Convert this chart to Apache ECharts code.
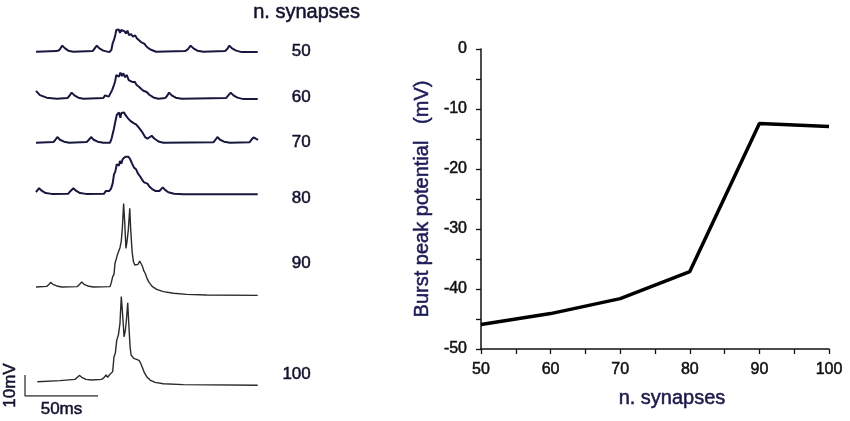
<!DOCTYPE html>
<html>
<head>
<meta charset="utf-8">
<script src="https://cdn.jsdelivr.net/npm/echarts@6/dist/echarts.min.js"></script>
<style>
  html, body { margin: 0; padding: 0; background: #fff; }
  #main { width: 850px; height: 421px; }
</style>
</head>
<body>
<div id="main"></div>
<script>
// right panel: burst peak vs number of synapses
var synapseCounts = [50, 60, 70, 80, 90, 100];
var burstPeak = [-45.9, -44.1, -41.6, -37.1, -12.4, -12.9];

// left panel: membrane potential traces, [time ms, mV]
var trace50 = [[0,-56],[14.2,-55.7],[16,-55.2],[18,-53.1],[19.9,-54.4],[22.1,-55.5],[25.6,-56],[38.8,-55.7],[40,-54.9],[41.6,-53.1],[43.4,-54.4],[46.1,-55.5],[50.2,-56.2],[51.6,-55.2],[52.5,-52],[53.4,-50.4],[54.3,-48],[55,-45.7],[55.9,-46.4],[56.6,-45.4],[57.5,-47],[58.2,-45.7],[59.4,-46.6],[60.5,-46.2],[61.6,-47.3],[62.6,-46],[63.7,-48.1],[65.1,-47.6],[66.4,-48.9],[67.8,-48.2],[69.2,-49.7],[70.5,-50.1],[71.9,-51.4],[73.1,-52],[74.4,-52.3],[75.3,-53.3],[76.9,-54.3],[79.2,-55.2],[82.2,-56],[102.1,-55.7],[103.9,-54.9],[105.9,-53.1],[107.8,-54.4],[110.5,-55.5],[114.6,-56],[129.5,-55.7],[131.1,-54.6],[132.4,-53.1],[134.2,-54.4],[137,-55.5],[140.9,-56.2],[151.8,-56.2]];
var trace60 = [[0,-52.3],[2.7,-54.3],[7.3,-55.5],[14.2,-56],[21.5,-55.7],[22.8,-54.7],[24.4,-53.1],[26.3,-54.4],[29,-55.5],[32.4,-56],[46.1,-55.7],[47.3,-54.4],[48.4,-53.5],[49.8,-55],[50.9,-54.6],[52.1,-51.9],[53,-50.3],[54.1,-47.9],[55,-44.7],[55.9,-43.9],[56.8,-45.5],[57.8,-43.6],[58.9,-45.2],[59.8,-43.9],[61,-45.8],[62.1,-44.7],[63.5,-47.1],[64.8,-46.5],[66.2,-48.1],[67.6,-47.9],[68.9,-49.5],[70.5,-50.3],[72.1,-51.4],[73.5,-52.2],[74.7,-51.6],[75.8,-52.8],[77.6,-54.1],[80.4,-55.4],[83.8,-56],[88.4,-55.7],[89.7,-54.7],[91.1,-53.1],[92.9,-54.4],[95.7,-55.5],[99.8,-56],[130.1,-55.7],[131.7,-54.4],[133.3,-53.1],[135.2,-54.4],[137.9,-55.5],[142,-56.2],[151.8,-56.2]];
var trace70 = [[0,-56],[11.9,-55.7],[13.2,-54.7],[14.6,-53.3],[16.4,-54.6],[19.2,-55.5],[22.8,-56],[34.7,-55.7],[36.1,-54.7],[37.7,-53.3],[39.5,-54.6],[42.2,-55.5],[46.1,-56],[50.7,-56],[51.8,-53.9],[52.7,-53.1],[53.4,-49.2],[54.3,-46],[55.3,-42.8],[56.2,-43.6],[56.8,-41.6],[57.8,-44.1],[58.4,-41.9],[59.4,-42.8],[60.3,-41.6],[61.2,-42.8],[62.1,-42.5],[63,-44.4],[63.9,-43.8],[64.8,-45.7],[66,-45.2],[67.1,-46.8],[68.5,-47.3],[69.9,-48.4],[71.2,-49.5],[72.6,-50.8],[73.7,-51.7],[74.9,-53.5],[76.3,-54.1],[77.6,-53.9],[79.2,-52.7],[80.8,-53.9],[83.8,-55.4],[87.2,-56],[121.5,-55.8],[122.8,-54.7],[124.2,-53.3],[126,-54.6],[128.8,-55.5],[132.9,-56],[146.1,-55.8],[147.5,-54.6],[148.9,-53.5],[150.3,-54],[152,-54.7]];
var trace80 = [[0,-55],[2.1,-53.1],[3.9,-54.3],[6.6,-55.4],[10.7,-55.8],[22.1,-55.7],[23.7,-54.4],[25.6,-53.1],[27.4,-54.3],[30.1,-55.4],[34.2,-55.8],[46.6,-55.7],[47.9,-54.4],[49.1,-53.5],[50.2,-54.4],[51.4,-53.3],[52.5,-50.8],[53.4,-46.5],[54.3,-45.2],[55.3,-41.7],[56.2,-40.8],[56.8,-42.3],[57.5,-40.1],[58.4,-41.4],[59.4,-39.2],[60.3,-40.1],[61.2,-38.1],[62.1,-37.3],[63.2,-38.1],[64.4,-39.2],[65.8,-41.4],[67.1,-43.3],[68.5,-44.1],[69.9,-46.2],[71.2,-47.4],[72.6,-49],[74,-50.3],[75.1,-51.2],[76.3,-50.9],[77.6,-52.3],[79.5,-53.5],[81.7,-54.4],[84.5,-54.4],[85.6,-53.5],[86.8,-52.7],[88.4,-53.9],[90.6,-55],[94.5,-55.7],[100.9,-56],[151.8,-56]];
var trace90 = [[0,-52],[7.3,-51.7],[8.7,-50.9],[10,-49.8],[11.6,-50.7],[14.2,-51.5],[17.6,-52],[28.3,-51.8],[29.9,-50.7],[31.3,-49.6],[32.9,-50.7],[35.4,-51.5],[39.3,-52],[50.7,-51.8],[51.6,-49.8],[52.5,-47.1],[53.4,-46],[54.1,-40.7],[55,-39.9],[55.7,-36.8],[56.6,-36.3],[57.5,-33.3],[58.4,-30.1],[59.1,-24.1],[60,-12.2],[60.7,-20.9],[61.6,-33.6],[62.3,-30.4],[63.2,-24.9],[64.2,-14.5],[64.8,-24.1],[65.8,-35.2],[66.7,-39.9],[67.6,-41.5],[68.7,-42.2],[69.9,-41.2],[71,-39.6],[71.9,-40.3],[72.8,-42],[73.7,-44.1],[74.9,-45.7],[76,-47.9],[77.4,-49.8],[79.5,-51.7],[82.6,-53.1],[87.2,-54.2],[94.1,-55],[103.2,-55.5],[116.9,-55.8],[151.8,-56]];
var trace100 = [[0.9,-53],[16.4,-52.5],[26.7,-51.9],[28.3,-50.9],[29.7,-50],[31.3,-50.9],[34.2,-51.9],[38.1,-52.2],[45,-51.9],[46.8,-50.9],[47.9,-49.8],[49.1,-50.9],[50.2,-49.8],[51.4,-50.6],[52.5,-48.2],[53.4,-41.1],[54.3,-39.5],[55.3,-33.2],[56.4,-30.8],[57.5,-25.2],[58.4,-12.5],[59.4,-22],[60.3,-31.6],[61.2,-28.4],[61.9,-23.6],[62.8,-15.4],[63.5,-25.2],[64.4,-36.3],[65.1,-40.3],[66,-40.3],[66.9,-41.9],[67.8,-41.9],[68.9,-42.4],[69.9,-43.3],[70.8,-43],[71.9,-44.6],[73.1,-46.7],[74.2,-48.7],[75.8,-50.6],[78.1,-52.2],[81.5,-53.3],[87.2,-54],[100.9,-54.4],[151.8,-54.7]];
var traceLabels = ['50', '60', '70', '80', '90', '100'];

// scale bar: 10 mV, 50 ms
var scaleBar = [[0, 10], [0, 0], [50, 0]];

var FONT = 'Liberation Sans, Arial, sans-serif';
var INK = '#12122e';
var chart = echarts.init(document.getElementById('main'));

// slightly heavier text, the original looks between regular and bold
function heavy(color, size) {
  return { fontFamily: FONT, fontSize: size, color: color, textBorderColor: color, textBorderWidth: 0.5 };
}

var traces = [trace50, trace60, trace70, trace80, trace90, trace100];
// grid boxes chosen so every trace shares 1.46 px/ms and 2.1 px/mV
var boxes = [
  { top: 9.7, height: 46.2, min: -58, max: -36, color: '#17173f', width: 2, labelY: 52 },
  { top: 56.7, height: 46.2, min: -58, max: -36, color: '#17173f', width: 2, labelY: 98 },
  { top: 100.7, height: 46.2, min: -58, max: -36, color: '#17173f', width: 2, labelY: 143 },
  { top: 152.3, height: 46.2, min: -58, max: -36, color: '#17173f', width: 2, labelY: 199 },
  { top: 198.8, height: 100.8, min: -58, max: -10, color: '#2a2a2a', width: 1.4, labelY: 264 },
  { top: 291.4, height: 100.8, min: -58, max: -10, color: '#2a2a2a', width: 1.4, labelY: 375 }
];

var grids = [], xAxes = [], yAxes = [], series = [], texts = [];
boxes.forEach(function (b, i) {
  grids.push({ left: 36, width: 222, top: b.top, height: b.height });
  xAxes.push({ type: 'value', gridIndex: i, min: 0, max: 152, show: false });
  yAxes.push({ type: 'value', gridIndex: i, min: b.min, max: b.max, show: false });
  series.push({
    type: 'line', xAxisIndex: i, yAxisIndex: i, data: traces[i],
    symbol: 'none', silent: true,
    lineStyle: { color: b.color, width: b.width }
  });
  texts.push({
    type: 'text', right: 850 - 311, top: b.labelY - 9,
    style: { text: traceLabels[i], font: '17px ' + FONT, fill: INK, stroke: INK, lineWidth: 0.5 }
  });
});

// scale bar grid (index 6)
grids.push({ left: 25, width: 73, top: 375, height: 21 });
xAxes.push({
  type: 'value', gridIndex: 6, min: 0, max: 50,
  axisLine: { show: false }, axisTick: { show: false }, axisLabel: { show: false }, splitLine: { show: false },
  name: '50ms', nameLocation: 'middle', nameGap: 5,
  nameTextStyle: heavy(INK, 17)
});
yAxes.push({
  type: 'value', gridIndex: 6, min: 0, max: 10,
  axisLine: { show: false }, axisTick: { show: false }, axisLabel: { show: false }, splitLine: { show: false },
  name: '10mV', nameLocation: 'middle', nameGap: 6,
  nameTextStyle: heavy(INK, 17)
});
series.push({
  type: 'line', xAxisIndex: 6, yAxisIndex: 6, data: scaleBar,
  symbol: 'none', silent: true, lineStyle: { color: '#333', width: 1.3 }
});

// right chart (index 7)
var xName = heavy('#1a1a4a', 20);
xName.padding = [0, 0, 0, 34];
var tickLabel = heavy('#111', 16);
grids.push({ left: 481, width: 348, top: 49, height: 300 });
xAxes.push({
  type: 'value', gridIndex: 7, min: 50, max: 100, interval: 5,
  axisLine: { onZero: false, lineStyle: { color: '#111', width: 1.5 } },
  axisTick: { length: 5, lineStyle: { color: '#111', width: 1.3 } },
  axisLabel: Object.assign({
    margin: 13,
    formatter: function (v) { return v % 10 === 0 ? v : ''; }
  }, tickLabel),
  splitLine: { show: false },
  name: 'n. synapses', nameLocation: 'middle', nameGap: 39,
  nameTextStyle: xName
});
yAxes.push({
  type: 'value', gridIndex: 7, min: -50, max: 0, interval: 5,
  axisLine: { lineStyle: { color: '#111', width: 1.5 } },
  axisTick: { length: 5, lineStyle: { color: '#111', width: 1.3 } },
  axisLabel: Object.assign({
    margin: 14,
    formatter: function (v) { return v % 10 === 0 ? v : ''; }
  }, tickLabel),
  splitLine: { show: false },
  name: 'Burst peak potential   (mV)', nameLocation: 'middle', nameGap: 49,
  nameTextStyle: heavy('#1c1c58', 20)
});
series.push({
  type: 'line', xAxisIndex: 7, yAxisIndex: 7,
  data: synapseCounts.map(function (n, i) { return [n, burstPeak[i]]; }),
  symbol: 'none', silent: true,
  lineStyle: { color: '#000', width: 3.5 }
});

texts.push({
  type: 'text', left: 253, top: 2,
  style: { text: 'n. synapses', font: '20px ' + FONT, fill: INK, stroke: INK, lineWidth: 0.5 }
});

chart.setOption({
  backgroundColor: '#fff',
  animation: false,
  grid: grids,
  xAxis: xAxes,
  yAxis: yAxes,
  series: series,
  graphic: texts
});
</script>
</body>
</html>
